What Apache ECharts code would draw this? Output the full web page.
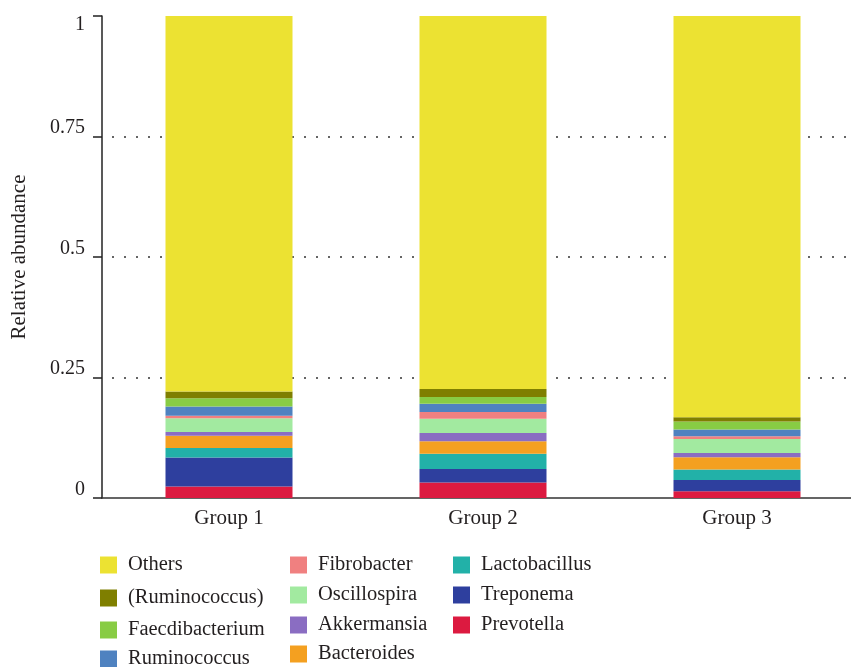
<!DOCTYPE html>
<html>
<head>
<meta charset="utf-8">
<script src="https://cdn.jsdelivr.net/npm/echarts@6/dist/echarts.min.js"></script>
<style>html,body{margin:0;padding:0;background:#fff}#c{width:851px;height:667px}</style>
</head>
<body>
<div id="c"></div>
<script>
var categories = ['Group 1', 'Group 2', 'Group 3'];
var yTicks = [0, 0.25, 0.5, 0.75, 1];

var prevotella      = [0.024, 0.032, 0.014];
var treponema       = [0.060, 0.028, 0.0235];
var lactobacillus   = [0.0195, 0.032, 0.0214];
var bacteroides     = [0.0255, 0.0255, 0.0257];
var akkermansia     = [0.0077, 0.0174, 0.009];
var oscillospira    = [0.029, 0.0297, 0.029];
var fibrobacter     = [0.005, 0.0139, 0.0056];
var ruminococcus    = [0.019, 0.0172, 0.0137];
var faecdibacterium = [0.0175, 0.0139, 0.0166];
var ruminococcusP   = [0.0137, 0.0166, 0.009];
var others          = [0.7791, 0.7738, 0.8325];

var seriesNames = ['Prevotella','Treponema','Lactobacillus','Bacteroides','Akkermansia','Oscillospira','Fibrobacter','Ruminococcus','Faecdibacterium','(Ruminococcus)','Others'];
var seriesData = [prevotella, treponema, lactobacillus, bacteroides, akkermansia, oscillospira, fibrobacter, ruminococcus, faecdibacterium, ruminococcusP, others];
var colors = ['#DC1A40','#2E3F9E','#22B1A8','#F4A020','#8A6DC2','#A2EAA0','#F08080','#4F82C0','#88CC44','#7F7F00','#ECE232'];

var FONT = '"Liberation Serif", "DejaVu Serif", serif';
var TEXT = '#231f20';

var legendLayout = [
  ['Others', 100, 563], ['(Ruminococcus)', 100, 596], ['Faecdibacterium', 100, 628], ['Ruminococcus', 100, 657],
  ['Fibrobacter', 290, 563], ['Oscillospira', 290, 593], ['Akkermansia', 290, 623], ['Bacteroides', 290, 652],
  ['Lactobacillus', 453, 563], ['Treponema', 453, 593], ['Prevotella', 453, 623]
];

var chart = echarts.init(document.getElementById('c'), null, {renderer: 'canvas'});
chart.setOption({
  animation: false,
  backgroundColor: '#fff',
  color: colors,
  grid: {left: 102, top: 16, bottom: 169, width: 762, containLabel: false, outerBoundsMode: 'none'},
  legend: legendLayout.map(function (l) {
    return {
      data: [l[0]], left: l[1], top: l[2] - 8.5, padding: 0, icon: 'rect',
      itemWidth: 17, itemHeight: 17, selectedMode: false,
      textStyle: {fontFamily: FONT, fontSize: 20.5, color: TEXT, padding: [0, 0, 0, 6], lineHeight: 17}
    };
  }),
  xAxis: {
    type: 'category', data: categories,
    axisLine: {lineStyle: {color: '#333', width: 1.5}},
    axisTick: {show: false},
    axisLabel: {fontFamily: FONT, fontSize: 21, color: TEXT, margin: 10}
  },
  yAxis: {
    type: 'value', min: 0, max: 1, interval: 0.25,
    name: 'Relative abundance', nameLocation: 'middle', nameGap: 72,
    nameTextStyle: {fontFamily: FONT, fontSize: 21, color: TEXT},
    axisLine: {show: true, lineStyle: {color: '#222', width: 1.5}},
    axisTick: {show: true, length: 9, lineStyle: {color: '#222', width: 1.5}},
    axisLabel: {fontFamily: FONT, fontSize: 20, color: TEXT, margin: 17, lineHeight: 17,
      verticalAlign: 'bottom', verticalAlignMaxLabel: 'top',
      formatter: function (v) { return yTicks.indexOf(v) >= 0 ? String(v) : ''; }},
    splitLine: {show: true, showMinLine: false, showMaxLine: false,
      lineStyle: {color: '#333', width: 1.5, type: [2, 10], dashOffset: -10}}
  },
  series: seriesNames.map(function (n, i) {
    return {name: n, type: 'bar', stack: 'all', barWidth: 127, data: seriesData[i],
      itemStyle: {color: colors[i]}};
  })
});
</script>
</body>
</html>
